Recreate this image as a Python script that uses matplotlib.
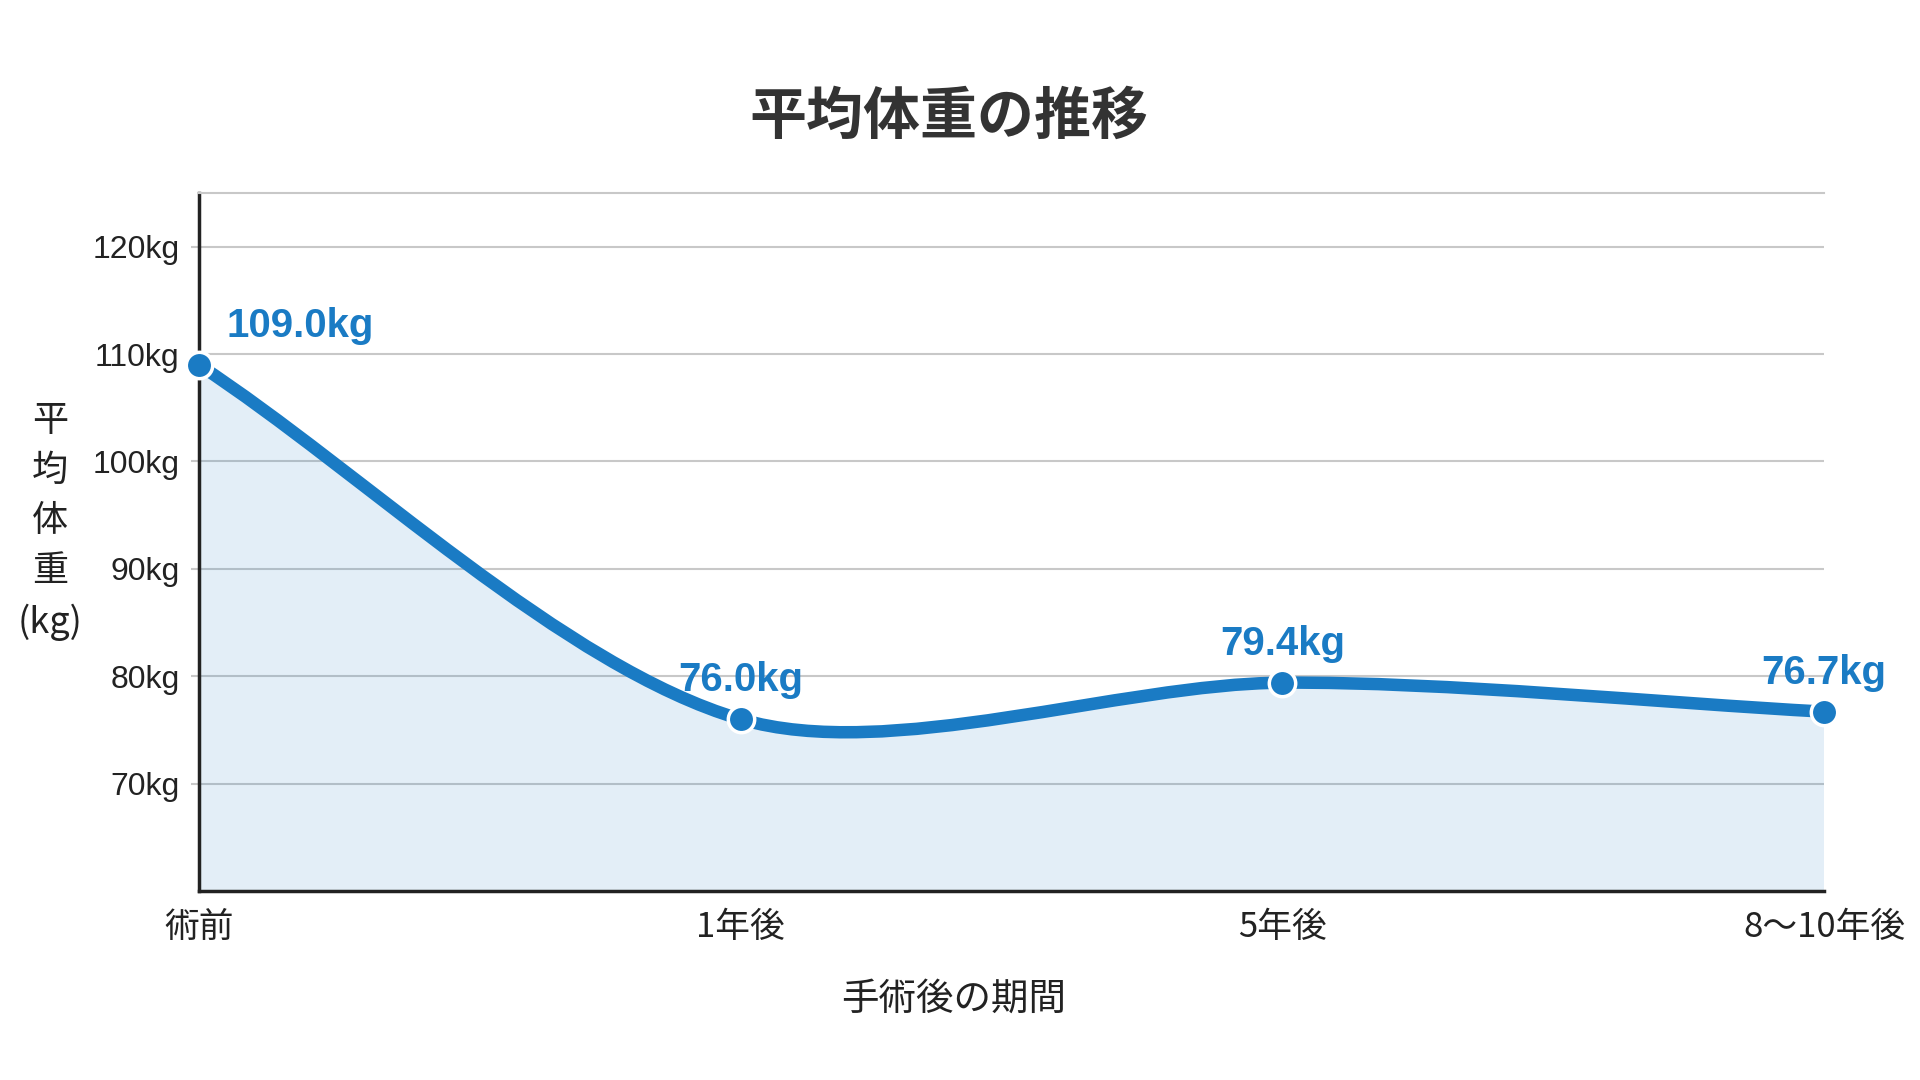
import numpy as np
import matplotlib.pyplot as plt
from matplotlib.path import Path
from matplotlib.patches import PathPatch

plt.rcParams['font.family'] = ['Liberation Sans', 'Noto Sans CJK JP', 'DejaVu Sans']

# data
periods = ['術前', '1年後', '5年後', '8〜10年後']
weights = [109.0, 76.0, 79.4, 76.7]
yticks = [70, 80, 90, 100, 110, 120]
ytick_labels = [f'{v}kg' for v in yticks]
value_labels = [f'{w:.1f}kg' for w in weights]

BLUE = '#1a7bc4'
TEXT = '#222222'
CJK = ['Noto Sans CJK JP', 'DejaVu Sans']


def spline_path(ax, xs, ys, tension=0.3):
    # cardinal-style bezier like Chart.js, computed in pixel space
    pts = ax.transData.transform(np.column_stack([xs, ys]))
    n = len(pts)
    cps = []
    for i in range(n):
        prev, cur, nxt = pts[max(i - 1, 0)], pts[i], pts[min(i + 1, n - 1)]
        d01 = np.hypot(*(cur - prev))
        d12 = np.hypot(*(nxt - cur))
        tot = d01 + d12
        s01 = d01 / tot if tot else 0
        s12 = d12 / tot if tot else 0
        cps.append((cur - tension * s01 * (nxt - prev),
                    cur + tension * s12 * (nxt - prev)))
    verts = [pts[0]]
    codes = [Path.MOVETO]
    for i in range(n - 1):
        verts += [cps[i][1], cps[i + 1][0], pts[i + 1]]
        codes += [Path.CURVE4] * 3
    verts = ax.transData.inverted().transform(np.array(verts))
    return verts, codes


fig = plt.figure(figsize=(19.2, 10.8), dpi=100)
ax = fig.add_axes([0.1036, 0.175, 0.8464, 0.6463])
x = np.arange(len(periods))
ax.set_xlim(x[0], x[-1])
ax.set_ylim(60, 125)

# grid
for v in yticks:
    ax.axhline(v, color='#c8c8c8', lw=1.5, zorder=0.5)

verts, codes = spline_path(ax, x, weights)
line = PathPatch(Path(verts, codes), facecolor='none', edgecolor=BLUE,
                 lw=9, capstyle='round', joinstyle='round', zorder=3)
fill_verts = np.vstack([verts, [[x[-1], 60], [x[0], 60], verts[0]]])
fill_codes = codes + [Path.LINETO, Path.LINETO, Path.CLOSEPOLY]
fill = PathPatch(Path(fill_verts, fill_codes), facecolor=BLUE, alpha=0.12,
                 edgecolor='none', zorder=1)
ax.add_patch(fill)
ax.add_patch(line)
ax.plot(x, weights, 'o', ms=19, mfc=BLUE, mec='white', mew=2.5,
        zorder=4, clip_on=False)

# value labels
offsets = [(73, 28), (0, 28), (0, 28), (0, 28)]
for xi, w, lab, off in zip(x, weights, value_labels, offsets):
    ax.annotate(lab, (xi, w), xytext=off, textcoords='offset points',
                ha='center', va='center', fontsize=29, fontweight='bold',
                color=BLUE, zorder=5)

ax.set_yticks(yticks)
ax.set_yticklabels(ytick_labels)
ax.set_xticks(x)
ax.set_xticklabels(periods, family=CJK)
ax.tick_params(axis='y', length=6, width=1.5, color='#c8c8c8',
               labelsize=23, labelcolor=TEXT, pad=8)
ax.tick_params(axis='x', length=0, labelsize=25, labelcolor=TEXT, pad=14)
for t in ax.get_xticklabels():
    t.set_family(CJK)

for s in ['left', 'bottom']:
    ax.spines[s].set_color('#222222')
    ax.spines[s].set_linewidth(2.5)
ax.spines['right'].set_visible(False)
ax.spines['top'].set_color('#c8c8c8')
ax.spines['top'].set_linewidth(1.5)

fig.text(0.4968, 0.0747, '手術後の期間', ha='center', va='center',
         fontsize=27, color=TEXT, family=CJK)
fig.text(0.026, 0.517, '平\n均\n体\n重\n(kg)', ha='center', va='center',
         fontsize=26, color=TEXT, linespacing=1.5, family=CJK)

fig.text(0.494, 0.892, '平均体重の推移', ha='center', va='center',
         fontsize=41, fontweight='bold', color='#333333', family=CJK)

plt.savefig('out.png', dpi=100)
